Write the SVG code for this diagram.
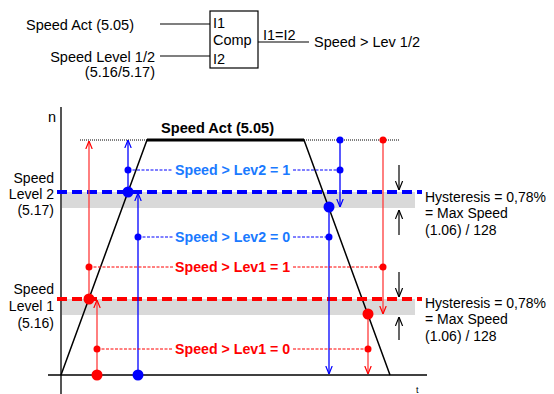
<svg xmlns="http://www.w3.org/2000/svg" width="554" height="394" viewBox="0 0 554 394">
<defs>
<style>
text{font-family:"Liberation Sans",Arial,sans-serif;fill:#000}
.t13{font-size:14.5px}
.t14{font-size:14px}
.b{font-weight:bold;font-size:14.2px}
.blu{fill:#1a7aff}
.red{fill:#ff0000}
.ln{stroke:#000;stroke-width:1.2;fill:none}
.rv{stroke:#ff3b3b;stroke-width:1.3;fill:none}
.bv{stroke:#0000ff;stroke-width:1.3;fill:none}
.rd{stroke:#ff0000;stroke-width:1;stroke-dasharray:3 1.5;fill:none}
.bd{stroke:#0000ff;stroke-width:1;stroke-dasharray:3 1.5;fill:none}
.band{fill:#d9d9d9}
</style>
<marker id="ar" viewBox="0 0 10 10" refX="10" refY="5" markerWidth="8" markerHeight="8" markerUnits="userSpaceOnUse" orient="auto"><path d="M0,1 L10,5 L0,9" fill="none" stroke="#ff0000" stroke-width="1.5"/></marker>
<marker id="ab" viewBox="0 0 10 10" refX="10" refY="5" markerWidth="8" markerHeight="8" markerUnits="userSpaceOnUse" orient="auto"><path d="M0,1 L10,5 L0,9" fill="none" stroke="#0000ff" stroke-width="1.5"/></marker>
<marker id="ak" viewBox="0 0 10 10" refX="10" refY="5" markerWidth="9" markerHeight="9" markerUnits="userSpaceOnUse" orient="auto"><path d="M0,1 L10,5 L0,9" fill="none" stroke="#000" stroke-width="1.3"/></marker>
</defs>

<g id="comparator">
<rect x="210" y="11" width="48" height="57" fill="#fff" stroke="#000" stroke-width="1.2"/>
<text class="t13" x="213" y="28">I1</text>
<text class="t13" x="213" y="45">Comp</text>
<text class="t13" x="213" y="64">I2</text>
</g>
<g id="inputs">
<text class="t13" x="26" y="30">Speed Act (5.05)</text>
<text class="t13" x="155" y="62" text-anchor="end">Speed Level 1/2</text>
<text class="t13" x="155" y="77" text-anchor="end">(5.16/5.17)</text>
</g>
<g id="output">
<text class="t13" x="263" y="40">I1=I2</text>
<text class="t13" x="314" y="47">Speed &gt; Lev 1/2</text>
</g>
<g id="block-connectors">
<line class="ln" x1="160" y1="24" x2="210" y2="24"/>
<line class="ln" x1="160" y1="56" x2="210" y2="56"/>
<line class="ln" x1="258" y1="42" x2="309" y2="42"/>
</g>

<g id="bands">
<rect class="band" x="61" y="192" width="354" height="16"/>
<rect class="band" x="61" y="299" width="354" height="16"/>
</g>

<g id="axes">
<line x1="61" y1="107" x2="61" y2="394" stroke="#555" stroke-width="2"/>
<line x1="48" y1="375" x2="427" y2="375" stroke="#000" stroke-width="1.5"/>
<text class="t13" x="48" y="122">n</text>
<text x="416" y="393" style="font-size:9px">t</text>
</g>

<g id="speed-curve">
<line x1="80" y1="140" x2="147" y2="140" stroke="#000" stroke-width="1" stroke-dasharray="1 1"/>
<line x1="304" y1="140" x2="400" y2="140" stroke="#000" stroke-width="1" stroke-dasharray="1 1"/>
<polyline points="61,375 147,140 304,140 390,375" fill="none" stroke="#000" stroke-width="1.5"/>
<line x1="147" y1="140" x2="304" y2="140" stroke="#000" stroke-width="3"/>
<text class="b" x="161" y="133" style="font-size:14.6px">Speed Act (5.05)</text>
</g>

<g id="levels">
<line x1="57" y1="192" x2="422" y2="192" stroke="#0000ff" stroke-width="4" stroke-dasharray="10 5"/>
<line x1="57" y1="299" x2="422" y2="299" stroke="#ff0000" stroke-width="4" stroke-dasharray="10 5"/>
<text class="t14" x="54" y="183" text-anchor="end">Speed</text>
<text class="t14" x="54" y="199" text-anchor="end">Level 2</text>
<text class="t14" x="54" y="215" text-anchor="end">(5.17)</text>
<text class="t14" x="54" y="294" text-anchor="end">Speed</text>
<text class="t14" x="54" y="311" text-anchor="end">Level 1</text>
<text class="t14" x="54" y="328" text-anchor="end">(5.16)</text>
</g>

<g id="connectors">
<line class="bv" x1="128" y1="192" x2="128" y2="140" marker-end="url(#ab)"/>
<line class="bv" x1="138" y1="375" x2="138" y2="193" marker-end="url(#ab)"/>
<line class="bv" x1="340" y1="140" x2="340" y2="207" marker-end="url(#ab)"/>
<line class="bv" x1="329" y1="207" x2="329" y2="374" marker-end="url(#ab)"/>
<line class="bd" x1="128" y1="170" x2="173" y2="170"/>
<line class="bd" x1="293" y1="170" x2="340" y2="170"/>
<line class="bd" x1="138" y1="237" x2="173" y2="237"/>
<line class="bd" x1="293" y1="237" x2="329" y2="237"/>
<line class="rv" x1="89" y1="299" x2="89" y2="141" marker-end="url(#ar)"/>
<line class="rv" x1="97" y1="375" x2="97" y2="300" marker-end="url(#ar)"/>
<line class="rv" x1="383" y1="140" x2="383" y2="314" marker-end="url(#ar)"/>
<line class="rv" x1="368" y1="314" x2="368" y2="374" marker-end="url(#ar)"/>
<line class="rd" x1="89" y1="267" x2="173" y2="267"/>
<line class="rd" x1="293" y1="267" x2="383" y2="267"/>
<line class="rd" x1="97" y1="349" x2="173" y2="349"/>
<line class="rd" x1="293" y1="349" x2="368" y2="349"/>
<line class="ln" x1="399" y1="165" x2="399" y2="190" marker-end="url(#ak)"/>
<line class="ln" x1="399" y1="235" x2="399" y2="210" marker-end="url(#ak)"/>
<line class="ln" x1="399" y1="272" x2="399" y2="297" marker-end="url(#ak)"/>
<line class="ln" x1="399" y1="340" x2="399" y2="317" marker-end="url(#ak)"/>
</g>

<g id="points">
<circle cx="128" cy="192" r="5.5" fill="#0000ff"/>
<circle cx="329" cy="207" r="5.5" fill="#0000ff"/>
<circle cx="138" cy="375" r="5.5" fill="#0000ff"/>
<circle cx="128" cy="170" r="3.5" fill="#0000ff"/>
<circle cx="138" cy="237" r="3.5" fill="#0000ff"/>
<circle cx="340" cy="140" r="3.5" fill="#0000ff"/>
<circle cx="340" cy="170" r="3.5" fill="#0000ff"/>
<circle cx="329" cy="237" r="3.5" fill="#0000ff"/>
<circle cx="89" cy="299" r="5.5" fill="#ff0000"/>
<circle cx="368" cy="314" r="5.5" fill="#ff0000"/>
<circle cx="97" cy="375" r="5.5" fill="#ff0000"/>
<circle cx="89" cy="267" r="3.5" fill="#ff0000"/>
<circle cx="97" cy="349" r="3.5" fill="#ff0000"/>
<circle cx="383" cy="140" r="3.5" fill="#ff0000"/>
<circle cx="383" cy="267" r="3.5" fill="#ff0000"/>
<circle cx="368" cy="349" r="3.5" fill="#ff0000"/>
</g>

<g id="state-labels">
<text class="b blu" x="175" y="175">Speed &gt; Lev2 = 1</text>
<text class="b blu" x="175" y="242">Speed &gt; Lev2 = 0</text>
<text class="b red" x="175" y="272">Speed &gt; Lev1 = 1</text>
<text class="b red" x="175" y="354">Speed &gt; Lev1 = 0</text>
</g>

<g id="hysteresis-labels">
<text class="t14" x="425" y="202">Hysteresis = 0,78%</text>
<text class="t14" x="425" y="218">= Max Speed</text>
<text class="t14" x="425" y="235">(1.06) / 128</text>
<text class="t14" x="425" y="308">Hysteresis = 0,78%</text>
<text class="t14" x="425" y="324">= Max Speed</text>
<text class="t14" x="425" y="341">(1.06) / 128</text>
</g>
</svg>
